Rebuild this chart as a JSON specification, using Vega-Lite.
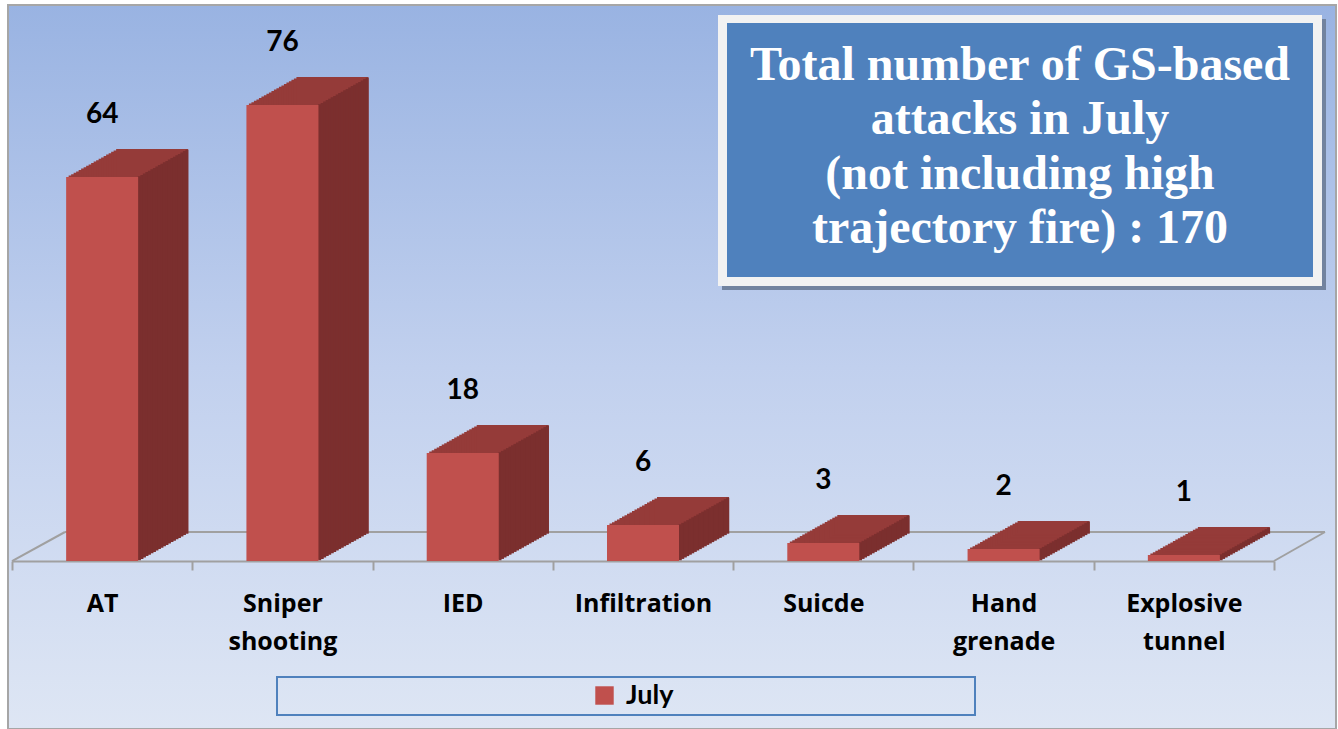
{
  "$schema": "https://vega.github.io/schema/vega-lite/v6.json",
  "width": 1328,
  "height": 724,
  "autosize": "none",
  "padding": {"left": 8, "top": 5, "right": 2, "bottom": 0},
  "background": "#FFFFFF",
  "config": {
    "view": {
      "fill": {"gradient": "linear", "x1": 0, "y1": 0, "x2": 0, "y2": 1,
        "stops": [{"offset": 0, "color": "#99B3E2"}, {"offset": 0.5, "color": "#C1D0EE"}, {"offset": 1, "color": "#DEE6F4"}]},
      "stroke": "#A6A6A6",
      "strokeWidth": 2
    }
  },
  "layer": [
    {
      "data": {"values": [{}]},
      "encoding": {
        "x": {"datum": 0.04292, "type": "quantitative", "scale": {"domain": [0, 1], "nice": false}, "axis": null},
        "y": {"datum": 0.2721, "type": "quantitative", "scale": {"domain": [0, 1], "nice": false}, "axis": null}
      },
      "layer": [
        {"mark": {"type": "rule", "color": "#A0A0A0", "strokeWidth": 2},
         "encoding": {"x2": {"datum": 0.99172}, "y2": {"datum": 0.2721}}},
        {"mark": {"type": "rule", "color": "#A0A0A0", "strokeWidth": 2},
         "encoding": {"x": {"datum": 0.00301, "type": "quantitative"}, "y": {"datum": 0.23204, "type": "quantitative"}, "x2": {"datum": 0.04292}, "y2": {"datum": 0.2721}}},
        {"mark": {"type": "rule", "color": "#A0A0A0", "strokeWidth": 2},
         "encoding": {"x": {"datum": 0.95331, "type": "quantitative"}, "y": {"datum": 0.23204, "type": "quantitative"}, "x2": {"datum": 0.99172}, "y2": {"datum": 0.2721}}}
      ]
    },
    {
      "data": {"values": [
        {"category": "AT", "value": 64},
        {"category": "Sniper shooting", "value": 76},
        {"category": "IED", "value": 18},
        {"category": "Infiltration", "value": 6},
        {"category": "Suicde", "value": 3},
        {"category": "Hand grenade", "value": 2},
        {"category": "Explosive tunnel", "value": 1}
      ]},
      "encoding": {
        "x": {"field": "category", "type": "nominal", "sort": null,
          "scale": {"range": [4, 1266], "paddingInner": 0, "paddingOuter": 0},
          "axis": {"title": null, "labelAngle": 0, "labelFont": "Open Sans", "labelFontWeight": "bold", "labelFontSize": 25, "labelColor": "#000000",
            "labelExpr": "split(datum.label, ' ')", "labelLineHeight": 38, "labelBaseline": "alphabetic", "labelPadding": 41,
            "domainColor": "#A0A0A0", "domainWidth": 2, "tickColor": "#A0A0A0", "tickWidth": 2, "tickSize": 9, "tickBand": "extent",
            "offset": -168, "grid": false}},
        "y": {"field": "value", "type": "quantitative", "scale": {"domain": [0, 92.667], "range": [556, 0], "nice": false}, "axis": null},
        "y2": {"datum": 0}
      },
      "layer": [
        {"mark": {"type": "bar", "width": 72, "color": "#953B39", "xOffset": 2.5, "yOffset": -1.4, "y2Offset": -1.4}},
        {"mark": {"type": "bar", "width": 72, "color": "#953B39", "xOffset": 5, "yOffset": -2.8, "y2Offset": -2.8}},
        {"mark": {"type": "bar", "width": 72, "color": "#953B39", "xOffset": 7.5, "yOffset": -4.2, "y2Offset": -4.2}},
        {"mark": {"type": "bar", "width": 72, "color": "#953B39", "xOffset": 10, "yOffset": -5.6, "y2Offset": -5.6}},
        {"mark": {"type": "bar", "width": 72, "color": "#953B39", "xOffset": 12.5, "yOffset": -7, "y2Offset": -7}},
        {"mark": {"type": "bar", "width": 72, "color": "#953B39", "xOffset": 15, "yOffset": -8.4, "y2Offset": -8.4}},
        {"mark": {"type": "bar", "width": 72, "color": "#953B39", "xOffset": 17.5, "yOffset": -9.8, "y2Offset": -9.8}},
        {"mark": {"type": "bar", "width": 72, "color": "#953B39", "xOffset": 20, "yOffset": -11.2, "y2Offset": -11.2}},
        {"mark": {"type": "bar", "width": 72, "color": "#953B39", "xOffset": 22.5, "yOffset": -12.6, "y2Offset": -12.6}},
        {"mark": {"type": "bar", "width": 72, "color": "#953B39", "xOffset": 25, "yOffset": -14, "y2Offset": -14}},
        {"mark": {"type": "bar", "width": 72, "color": "#953B39", "xOffset": 27.5, "yOffset": -15.4, "y2Offset": -15.4}},
        {"mark": {"type": "bar", "width": 72, "color": "#953B39", "xOffset": 30, "yOffset": -16.8, "y2Offset": -16.8}},
        {"mark": {"type": "bar", "width": 72, "color": "#953B39", "xOffset": 32.5, "yOffset": -18.2, "y2Offset": -18.2}},
        {"mark": {"type": "bar", "width": 72, "color": "#953B39", "xOffset": 35, "yOffset": -19.6, "y2Offset": -19.6}},
        {"mark": {"type": "bar", "width": 72, "color": "#953B39", "xOffset": 37.5, "yOffset": -21, "y2Offset": -21}},
        {"mark": {"type": "bar", "width": 72, "color": "#953B39", "xOffset": 40, "yOffset": -22.4, "y2Offset": -22.4}},
        {"mark": {"type": "bar", "width": 72, "color": "#953B39", "xOffset": 42.5, "yOffset": -23.8, "y2Offset": -23.8}},
        {"mark": {"type": "bar", "width": 72, "color": "#953B39", "xOffset": 45, "yOffset": -25.2, "y2Offset": -25.2}},
        {"mark": {"type": "bar", "width": 72, "color": "#953B39", "xOffset": 47.5, "yOffset": -26.6, "y2Offset": -26.6}},
        {"mark": {"type": "bar", "width": 72, "color": "#953B39", "xOffset": 50, "yOffset": -28, "y2Offset": -28}},
        {"mark": {"type": "bar", "width": 3, "color": "#7B2F2E", "xOffset": 37.25, "yOffset": -0.7, "y2Offset": -0.7}},
        {"mark": {"type": "bar", "width": 3, "color": "#7B2F2E", "xOffset": 39.75, "yOffset": -2.1, "y2Offset": -2.1}},
        {"mark": {"type": "bar", "width": 3, "color": "#7B2F2E", "xOffset": 42.25, "yOffset": -3.5, "y2Offset": -3.5}},
        {"mark": {"type": "bar", "width": 3, "color": "#7B2F2E", "xOffset": 44.75, "yOffset": -4.9, "y2Offset": -4.9}},
        {"mark": {"type": "bar", "width": 3, "color": "#7B2F2E", "xOffset": 47.25, "yOffset": -6.3, "y2Offset": -6.3}},
        {"mark": {"type": "bar", "width": 3, "color": "#7B2F2E", "xOffset": 49.75, "yOffset": -7.7, "y2Offset": -7.7}},
        {"mark": {"type": "bar", "width": 3, "color": "#7B2F2E", "xOffset": 52.25, "yOffset": -9.1, "y2Offset": -9.1}},
        {"mark": {"type": "bar", "width": 3, "color": "#7B2F2E", "xOffset": 54.75, "yOffset": -10.5, "y2Offset": -10.5}},
        {"mark": {"type": "bar", "width": 3, "color": "#7B2F2E", "xOffset": 57.25, "yOffset": -11.9, "y2Offset": -11.9}},
        {"mark": {"type": "bar", "width": 3, "color": "#7B2F2E", "xOffset": 59.75, "yOffset": -13.3, "y2Offset": -13.3}},
        {"mark": {"type": "bar", "width": 3, "color": "#7B2F2E", "xOffset": 62.25, "yOffset": -14.7, "y2Offset": -14.7}},
        {"mark": {"type": "bar", "width": 3, "color": "#7B2F2E", "xOffset": 64.75, "yOffset": -16.1, "y2Offset": -16.1}},
        {"mark": {"type": "bar", "width": 3, "color": "#7B2F2E", "xOffset": 67.25, "yOffset": -17.5, "y2Offset": -17.5}},
        {"mark": {"type": "bar", "width": 3, "color": "#7B2F2E", "xOffset": 69.75, "yOffset": -18.9, "y2Offset": -18.9}},
        {"mark": {"type": "bar", "width": 3, "color": "#7B2F2E", "xOffset": 72.25, "yOffset": -20.3, "y2Offset": -20.3}},
        {"mark": {"type": "bar", "width": 3, "color": "#7B2F2E", "xOffset": 74.75, "yOffset": -21.7, "y2Offset": -21.7}},
        {"mark": {"type": "bar", "width": 3, "color": "#7B2F2E", "xOffset": 77.25, "yOffset": -23.1, "y2Offset": -23.1}},
        {"mark": {"type": "bar", "width": 3, "color": "#7B2F2E", "xOffset": 79.75, "yOffset": -24.5, "y2Offset": -24.5}},
        {"mark": {"type": "bar", "width": 3, "color": "#7B2F2E", "xOffset": 82.25, "yOffset": -25.9, "y2Offset": -25.9}},
        {"mark": {"type": "bar", "width": 3, "color": "#7B2F2E", "xOffset": 84.75, "yOffset": -27.3, "y2Offset": -27.3}},
        {"mark": {"type": "bar", "width": 72},
         "encoding": {"color": {"datum": "July", "type": "nominal", "scale": {"range": ["#C0504D"]},
           "legend": {"orient": "none", "legendX": 583, "legendY": 677, "title": null, "symbolType": "square", "symbolSize": 340, "symbolStrokeWidth": 0,
             "labelFont": "Lato", "labelFontWeight": "bold", "labelFontSize": 27, "labelColor": "#000000", "labelOffset": 8, "padding": 0}}}},
        {"mark": {"type": "text", "font": "Lato", "fontWeight": "bold", "fontSize": 28, "color": "#000000", "align": "center", "baseline": "middle", "yOffset": -62},
         "encoding": {"text": {"field": "value", "type": "quantitative"}, "y2": null}}
      ]
    },
    {
      "data": {"values": [{}]},
      "encoding": {
        "x": {"datum": 0.53765, "type": "quantitative", "scale": {"domain": [0, 1], "nice": false}, "axis": null},
        "y": {"datum": 0.98066, "type": "quantitative", "scale": {"domain": [0, 1], "nice": false}, "axis": null}
      },
      "layer": [
        {"mark": {"type": "rect", "color": "#72839F"},
         "encoding": {"x2": {"datum": 0.99247}, "y2": {"datum": 0.60635}}},
        {"mark": {"type": "rect", "color": "#F2F2F2"},
         "encoding": {"x": {"datum": 0.53464, "type": "quantitative"}, "y": {"datum": 0.98619, "type": "quantitative"}, "x2": {"datum": 0.98946}, "y2": {"datum": 0.61188}}},
        {"mark": {"type": "rect", "color": "#4F81BD"},
         "encoding": {"x": {"datum": 0.54142, "type": "quantitative"}, "y": {"datum": 0.97514, "type": "quantitative"}, "x2": {"datum": 0.98268}, "y2": {"datum": 0.62431}}},
        {"mark": {"type": "text", "font": "Liberation Serif", "fontWeight": "bold", "fontSize": 48, "color": "#FFFFFF", "align": "center", "baseline": "alphabetic", "lineHeight": 54.5},
         "encoding": {"x": {"datum": 0.76205, "type": "quantitative"}, "y": {"datum": 0.89641, "type": "quantitative"},
           "text": {"value": ["Total number of GS-based", "attacks in July", "(not including high", "trajectory fire) : 170"]}}},
        {"mark": {"type": "rect", "fill": null, "fillOpacity": 0, "stroke": "#4F81BD", "strokeWidth": 2},
         "encoding": {"x": {"datum": 0.20256, "type": "quantitative"}, "y": {"datum": 0.07182, "type": "quantitative"}, "x2": {"datum": 0.72816}, "y2": {"datum": 0.01934}}}
      ]
    }
  ],
  "resolve": {"scale": {"x": "independent", "y": "independent", "color": "independent"}}
}
